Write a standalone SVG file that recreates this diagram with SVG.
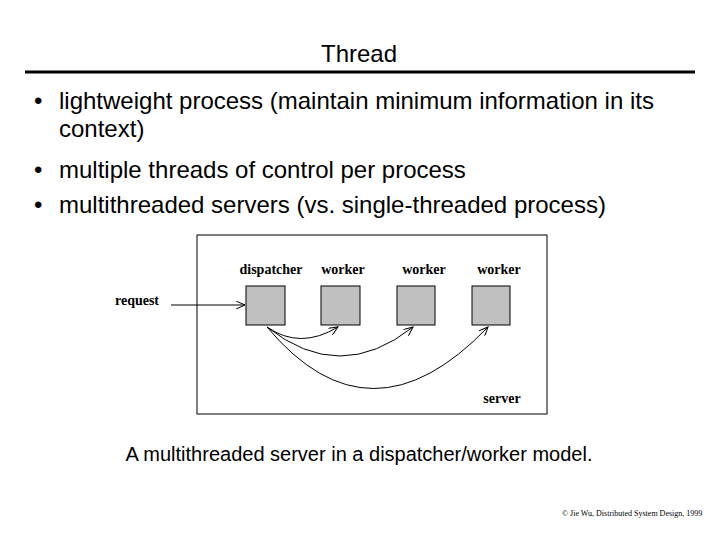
<svg xmlns="http://www.w3.org/2000/svg" width="720" height="540" viewBox="0 0 720 540">
<style>
.t{font-family:"Liberation Sans",Arial,sans-serif;font-size:24px;fill:#000}
.s{font-family:"Liberation Serif","Times New Roman",serif;font-size:14px;font-weight:bold;fill:#000}
.box{fill:#c0c0c0;stroke:#000;stroke-width:1}
.c{fill:none;stroke:#000;stroke-width:1}
</style>
<defs><marker id="a" markerWidth="10" markerHeight="8" refX="9" refY="4" orient="auto" markerUnits="userSpaceOnUse"><path d="M0,0 L9,4 L0,8" fill="none" stroke="#000"/></marker></defs>
<rect width="720" height="540" fill="#fff"/>
<text class="t" x="359" y="62" text-anchor="middle">Thread</text>
<line x1="25" y1="72" x2="695" y2="72" stroke="#000" stroke-width="3"/>
<text class="t" x="34" y="109">•</text><text class="t" x="59" y="109">lightweight process (maintain minimum information in its</text>
<text class="t" x="59" y="137">context)</text>
<text class="t" x="34" y="178">•</text><text class="t" x="59" y="178">multiple threads of control per process</text>
<text class="t" x="34" y="213">•</text><text class="t" x="59" y="213">multithreaded servers (vs. single-threaded process)</text>
<rect x="197" y="235" width="350" height="179" fill="none" stroke="#000"/>
<g id="dispatcher"><rect class="box" x="246" y="286" width="39" height="39"/><text class="s" x="271" y="274" text-anchor="middle">dispatcher</text></g>
<g id="worker1"><rect class="box" x="321" y="286" width="39" height="39"/><text class="s" x="343" y="274" text-anchor="middle">worker</text></g>
<g id="worker2"><rect class="box" x="397" y="286" width="38" height="39"/><text class="s" x="424" y="274" text-anchor="middle">worker</text></g>
<g id="worker3"><rect class="box" x="472" y="286" width="38" height="39"/><text class="s" x="499" y="274" text-anchor="middle">worker</text></g>
<g id="labels"><text class="s" x="137" y="305" text-anchor="middle">request</text><text class="s" x="502" y="403" text-anchor="middle">server</text></g>
<g id="connectors">
<line class="c" x1="171" y1="305" x2="245" y2="305" marker-end="url(#a)"/>
<path class="c" d="M267,327 Q300,350 338,327" marker-end="url(#a)"/>
<path class="c" d="M267,327 Q340,385 413,327" marker-end="url(#a)"/>
<path class="c" d="M267,327 Q370,450 488,327" marker-end="url(#a)"/>
</g>
<text class="t" x="359" y="461" text-anchor="middle" style="font-size:20px">A multithreaded server in a dispatcher/worker model.</text>
<text x="562" y="516" style="font-family:'Liberation Serif',serif;font-size:8px">© Jie Wu, Distributed System Design, 1999</text>
</svg>
